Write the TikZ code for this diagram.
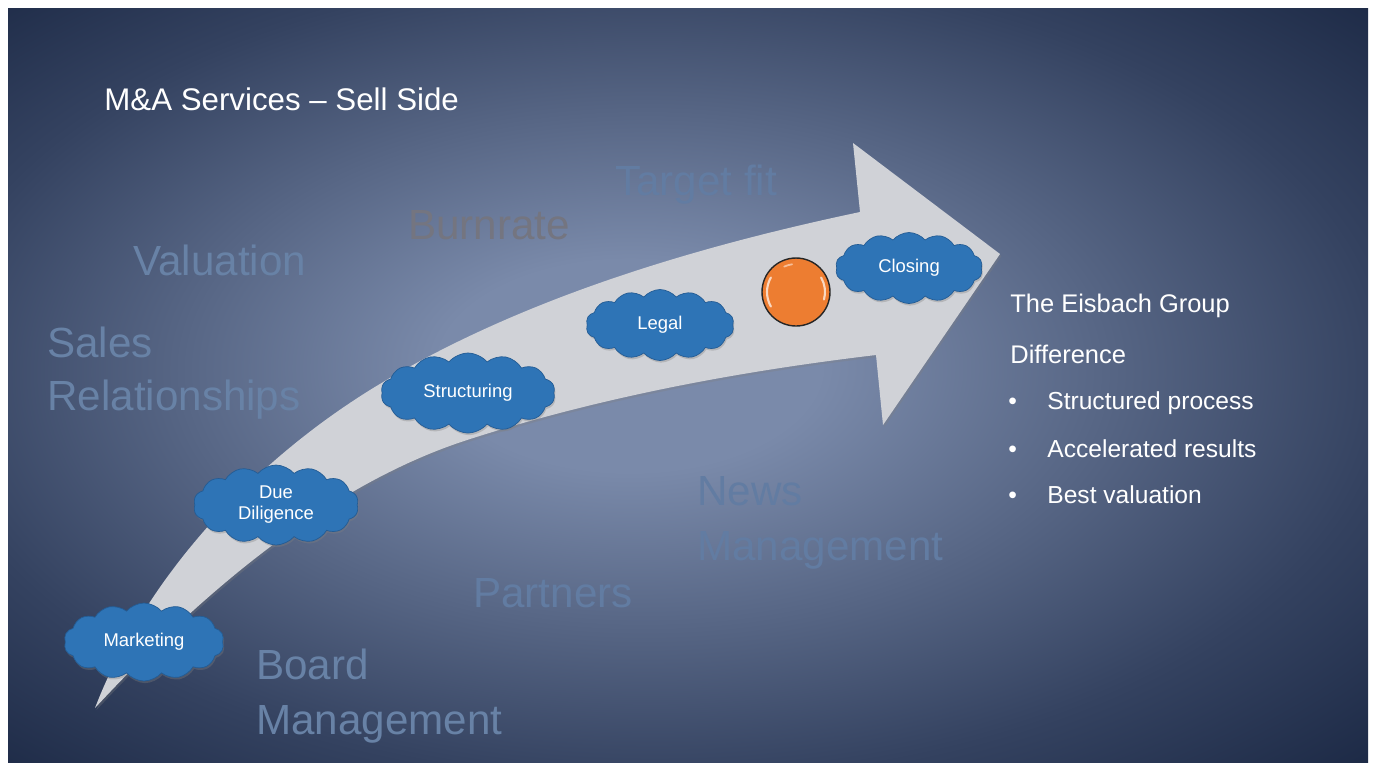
\documentclass[tikz,border=0pt]{standalone}
\usepackage{fontspec}
\setmainfont{Liberation Sans}
\usetikzlibrary{shapes.symbols, shadows}
\definecolor{bgin}{RGB}{122,138,170}
\definecolor{bgmid}{RGB}{52,66,96}
\definecolor{bgout}{RGB}{27,40,68}
\definecolor{arrowgray}{RGB}{208,210,215}
\definecolor{cloudblue}{RGB}{46,116,182}
\definecolor{cloudedge}{RGB}{36,92,148}
\definecolor{ballorange}{RGB}{237,125,49}
\definecolor{fadeblue}{RGB}{104,130,166}
\definecolor{fadedeep}{RGB}{98,124,162}
\definecolor{fadegray}{RGB}{116,117,128}
\pgfdeclareradialshading{slidebg}{\pgfpoint{-2.5bp}{1.5bp}}{color(0bp)=(bgin); color(7bp)=(bgin); color(27bp)=(bgmid); color(37bp)=(bgout); color(50bp)=(bgout)}

\begin{document}
\begin{tikzpicture}[x=0.02cm, y=-0.02cm,
  stepcloud/.style={cloud, cloud puffs=14, cloud puff arc=100, cloud ignores aspect, inner sep=0pt, fill=cloudblue, draw=cloudedge, text=white, align=center, font=\fontsize{10.5}{12}\selectfont, drop shadow={opacity=0.35, shadow xshift=0.6pt, shadow yshift=-1.2pt}},
  faded/.style={anchor=base west, inner sep=0pt, font=\fontsize{24}{28}\selectfont},
  sidetext/.style={anchor=base west, inner sep=0pt, text=white, font=\fontsize{14}{17}\selectfont}]
\useasboundingbox (0,0) rectangle (1375,769);
\fill[white] (0,0) rectangle (1375,769);
\shade[shading=slidebg] (8,8) rectangle (1368,762);

\node (title)[anchor=base west, inner sep=0pt, text=white, font=\fontsize{17.8}{20}\selectfont] at (104,110) {M\&A Services – Sell Side};

\node (val)[faded, text=fadeblue] at (133,275) {Valuation};
\node (sales)[faded, text=fadeblue] at (47,357) {Sales};
\node (rel)[faded, text=fadeblue] at (47,410) {Relationships};
\node (burn)[faded, text=fadegray] at (408,239) {Burnrate};
\node (fit)[faded, text=fadedeep] at (615,195) {Target fit};
\node (news)[faded, text=fadedeep] at (697,505) {News};
\node (newsmgmt)[faded, text=fadedeep] at (697,560) {Management};
\node (partn)[faded, text=fadedeep] at (473,607) {Partners};
\node (board)[faded, text=fadeblue] at (256,679) {Board};
\node (boardmgmt)[faded, text=fadeblue] at (256,734) {Management};

\fill[arrowgray, drop shadow={opacity=0.3, shadow xshift=0.8pt, shadow yshift=-1.2pt}] (95,708) .. controls (145,578) and (251,464) .. (370,390) .. controls (515,300) and (694,247) .. (860,212) -- (853,143) -- (1000,254) -- (883,425) -- (876,355) .. controls (741,371) and (600,397) .. (467,440) .. controls (325,486) and (197,598) .. (95,708) -- cycle;

\node (mkt)[stepcloud, minimum width=3.2cm, minimum height=1.56cm] at (144,642) {Marketing};
\node (dd)[stepcloud, minimum width=3.3cm, minimum height=1.6cm] at (276,505) {Due\\Diligence};
\node (struct)[stepcloud, minimum width=3.48cm, minimum height=1.6cm] at (468,393) {Structuring};
\node (legal)[stepcloud, minimum width=2.96cm, minimum height=1.42cm] at (660,325) {Legal};
\node (closing)[stepcloud, minimum width=2.94cm, minimum height=1.42cm] at (909,268) {Closing};

\node (ball)[circle, minimum size=1.36cm, inner sep=0pt, fill=ballorange, draw=black!85, line width=0.8pt] at (796,292) {};
\draw[white, opacity=0.7, line width=1.2pt, line cap=round] (ball.center) ++(210:29) arc[start angle=210, end angle=150, radius=29];
\draw[white, opacity=0.7, line width=1.2pt, line cap=round] (ball.center) ++(-30:29) arc[start angle=-30, end angle=15, radius=29];
\draw[white, opacity=0.5, line width=1pt, line cap=round] (ball.center) ++(245:28) arc[start angle=245, end angle=262, radius=28];

\node (grp)[sidetext, font=\fontsize{14.5}{17}\selectfont] at (1010,312) {The Eisbach Group};
\node (diff)[sidetext, font=\fontsize{14.5}{17}\selectfont] at (1010,363) {Difference};
\node (dot1)[sidetext] at (1008,409) {•};
\node (pt1)[sidetext] at (1047,409) {Structured process};
\node (dot2)[sidetext] at (1008,457) {•};
\node (pt2)[sidetext] at (1047,457) {Accelerated results};
\node (dot3)[sidetext] at (1008,503) {•};
\node (pt3)[sidetext] at (1047,503) {Best valuation};
\end{tikzpicture}
\end{document}
